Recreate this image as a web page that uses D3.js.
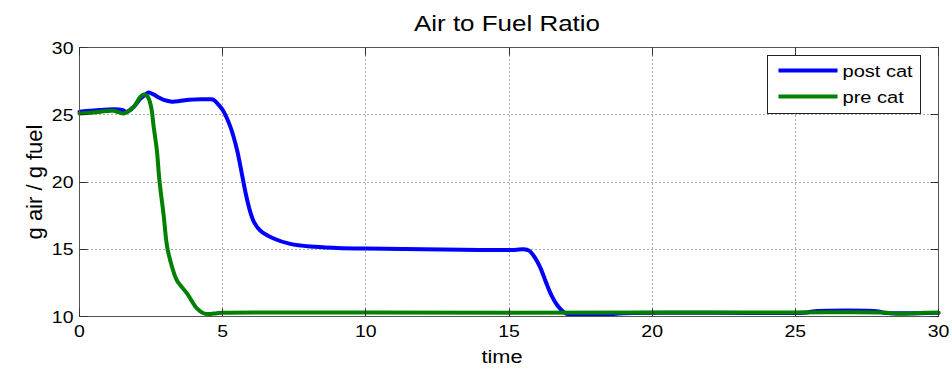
<!DOCTYPE html>
<meta charset="utf-8">
<head>
<style>
    body { margin: 0; background: #fff; }
    text { font-family: "Liberation Sans", Arial, sans-serif; fill: #000; }
    .line { fill: none; stroke-width: 4px; stroke-linejoin: round; stroke-linecap: round; }
    .grid { stroke: #555; stroke-width: 1px; stroke-dasharray: 1,3; }
</style>
</head>
<body>
<script src="https://d3js.org/d3.v7.min.js"></script>
<script>
// post cat series (time, g air / g fuel)
var postTime = [0, 0.4, 0.73, 1.19, 1.5, 1.66, 1.9, 2.13, 2.3, 2.42, 2.59, 2.75, 2.94, 3.23, 3.5, 3.75, 4.22, 4.57, 4.69, 4.86,
    5.0, 5.27, 5.5, 5.68, 5.82, 5.96, 6.1, 6.31, 6.78, 7.36, 8.06, 9, 10, 12, 14, 15.2, 15.5, 15.7, 15.9, 16.1, 16.3, 16.5, 16.7,
    16.9, 17.1, 17.3, 17.9, 18.4, 19, 22, 25.4, 25.6, 27.9, 28.1, 30];
var postValue = [25.23, 25.3, 25.35, 25.4, 25.35, 25.23, 25.6, 26.2, 26.5, 26.65, 26.5, 26.3, 26.1, 25.97, 26.02, 26.1, 26.15, 26.15, 26.1, 25.73,
    25.35, 24.1, 22.4, 20.5, 19.0, 17.8, 17.0, 16.4, 15.8, 15.4, 15.2, 15.1, 15.05, 15.0, 14.95, 14.95, 15.0, 14.9, 14.4, 13.6, 12.5, 11.5, 10.8,
    10.35, 10.15, 10.15, 10.15, 10.15, 10.25, 10.28, 10.3, 10.38, 10.38, 10.28, 10.28];

// pre cat series
var preTime = [0, 0.4, 0.73, 1.19, 1.55, 1.9, 2.13, 2.25, 2.38, 2.5, 2.59, 2.7, 2.79, 2.94, 3.06, 3.23, 3.4, 3.76, 4.1, 4.33, 4.5,
    4.8, 5, 10, 15, 20, 25, 28.2, 28.5, 29, 29.5, 30];
var preValue = [25.1, 25.15, 25.23, 25.3, 25.1, 25.6, 26.35, 26.5, 26.35, 25.6, 24.1, 22.4, 20.15, 17.5, 15.2, 13.7, 12.7, 11.7, 10.6, 10.24, 10.18,
    10.25, 10.28, 10.3, 10.28, 10.3, 10.3, 10.28, 10.2, 10.22, 10.27, 10.28];

var xTicks = [0, 5, 10, 15, 20, 25, 30];
var yTicks = [10, 15, 20, 25, 30];
var seriesNames = ["post cat", "pre cat"];
var seriesColors = ["#0000ff", "#008000"];

var W = 952, H = 373;
var margin = { top: 47.5, right: 13.5, bottom: 56.5, left: 79.5 },
    width = W - margin.left - margin.right,
    height = H - margin.top - margin.bottom;
var stretch = 1.18; // glyphs in the picture are a bit wide

var svg = d3.select("body").append("svg")
    .attr("width", W)
    .attr("height", H);

var g = svg.append("g")
    .attr("transform", "translate(" + margin.left + "," + margin.top + ")");

var x = d3.scaleLinear().domain([0, 30]).range([0, width]);
var y = d3.scaleLinear().domain([10, 30]).range([height, 0]);

// dotted grid
g.selectAll(".gx").data(xTicks.slice(1, -1)).enter().append("line")
    .attr("class", "grid")
    .attr("x1", function(d) { return Math.round(x(d)); })
    .attr("x2", function(d) { return Math.round(x(d)); })
    .attr("y1", 0).attr("y2", height);
g.selectAll(".gy").data(yTicks.slice(1, -1)).enter().append("line")
    .attr("class", "grid")
    .attr("y1", function(d) { return Math.round(y(d)); })
    .attr("y2", function(d) { return Math.round(y(d)); })
    .attr("x1", 0).attr("x2", width);

// lines
var series = [
    { name: seriesNames[0], color: seriesColors[0], t: postTime, v: postValue },
    { name: seriesNames[1], color: seriesColors[1], t: preTime, v: preValue }
];
var line = d3.line()
    .x(function(d) { return x(d[0]); })
    .y(function(d) { return y(d[1]); })
    .curve(d3.curveCatmullRom.alpha(0.5));
series.forEach(function(s) {
    g.append("path")
        .datum(s.t.map(function(t, i) { return [t, s.v[i]]; }))
        .attr("class", "line")
        .style("stroke", s.color)
        .attr("d", line);
});

// box + inward ticks
g.append("rect")
    .attr("width", width).attr("height", height)
    .attr("fill", "none").attr("stroke", "#555").attr("stroke-width", 1);
var tl = 8;
xTicks.forEach(function(d) {
    var px = Math.round(x(d));
    g.append("line").attr("x1", px).attr("x2", px).attr("y1", height).attr("y2", height - tl).attr("stroke", "#333");
    g.append("line").attr("x1", px).attr("x2", px).attr("y1", 0).attr("y2", tl).attr("stroke", "#333");
});
yTicks.forEach(function(d) {
    var py = Math.round(y(d));
    g.append("line").attr("y1", py).attr("y2", py).attr("x1", 0).attr("x2", tl).attr("stroke", "#333");
    g.append("line").attr("y1", py).attr("y2", py).attr("x1", width).attr("x2", width - tl).attr("stroke", "#333");
});

// tick labels
g.selectAll(".xl").data(xTicks).enter().append("text")
    .attr("transform", function(d) { return "translate(" + x(d) + "," + (height + 20.5) + ") scale(" + stretch + ",1)"; })
    .attr("text-anchor", "middle")
    .style("font-size", "16.5px")
    .text(function(d) { return d; });
g.selectAll(".yl").data(yTicks).enter().append("text")
    .attr("transform", function(d) { return "translate(-6," + (y(d) + 6) + ") scale(" + stretch + ",1)"; })
    .attr("text-anchor", "end")
    .style("font-size", "16.5px")
    .text(function(d) { return d; });

// title and axis labels
svg.append("text")
    .attr("transform", "translate(507,31) scale(" + stretch + ",1)")
    .attr("text-anchor", "middle")
    .style("font-size", "22px")
    .text("Air to Fuel Ratio");
svg.append("text")
    .attr("transform", "translate(502,363) scale(" + stretch + ",1)")
    .attr("text-anchor", "middle")
    .style("font-size", "18.5px")
    .text("time");
svg.append("text")
    .attr("transform", "translate(42,182) rotate(-90)")
    .attr("text-anchor", "middle")
    .style("font-size", "22px")
    .text("g air / g fuel");

// legend
var lg = svg.append("g").attr("transform", "translate(767.5,55.5)");
lg.append("rect").attr("width", 153).attr("height", 58)
    .attr("fill", "#fff").attr("stroke", "#222").attr("stroke-width", 1);
var ly = d3.scalePoint().domain(seriesNames).range([15, 41]);
var item = lg.selectAll(".item").data(series).enter().append("g")
    .attr("transform", function(d) { return "translate(0," + ly(d.name) + ")"; });
item.append("line")
    .attr("x1", 11).attr("x2", 70).attr("y1", 0).attr("y2", 0)
    .attr("stroke", function(d) { return d.color; }).attr("stroke-width", 4);
item.append("text")
    .attr("transform", "translate(75,6) scale(" + stretch + ",1)")
    .style("font-size", "17px")
    .text(function(d) { return d.name; });
</script>
</body>
